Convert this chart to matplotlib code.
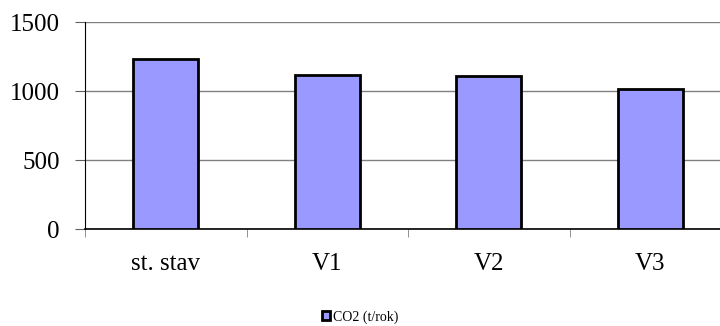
import matplotlib
matplotlib.use("Agg")
from matplotlib import pyplot as plt
import numpy as np

categories = ["st. stav", "V1", "V2", "V3"]
co2 = [1233, 1118, 1111, 1018]
yticks = [0, 500, 1000, 1500]
series_label = "CO2 (t/rok)"

plt.rcParams["font.family"] = ["Liberation Serif", "DejaVu Serif"]

fig = plt.figure(figsize=(7.2, 3.26), dpi=100)
# plot area runs slightly past the right edge, like the cropped original
ax = fig.add_axes([85 / 720, 1 - 229 / 326, 646 / 720, 207 / 326])

x = np.arange(len(categories))
ax.bar(x, co2, width=0.4, color="#9999ff", edgecolor="black", linewidth=2,
       label=series_label, zorder=3)

ax.set_xlim(-0.5, len(categories) - 0.5)
ax.set_ylim(0, 1500)
ax.set_yticks(yticks)
ax.set_xticks(x)
ax.set_xticklabels(categories)
ax.set_xticks(np.arange(-0.5, len(categories)), minor=True)
ax.tick_params(axis="x", which="major", length=0, labelsize=18, pad=17)
ax.tick_params(axis="x", which="minor", length=6, color="#808080", direction="out")
ax.tick_params(axis="y", length=7, color="#606060", labelsize=18, pad=11)

ax.grid(axis="y", color="#808080", linewidth=1, zorder=0)
for s in ["top", "right"]:
    ax.spines[s].set_visible(False)
ax.spines["left"].set_color("black")
ax.spines["bottom"].set_color("black")
ax.spines["bottom"].set_linewidth(1.2)

fig.legend(loc="center", bbox_to_anchor=(0.5, 1 - 317 / 326), frameon=False,
           fontsize=10, handlelength=0.6, handleheight=0.6, handletextpad=0.2)

fig.savefig("out.png", dpi=100)
